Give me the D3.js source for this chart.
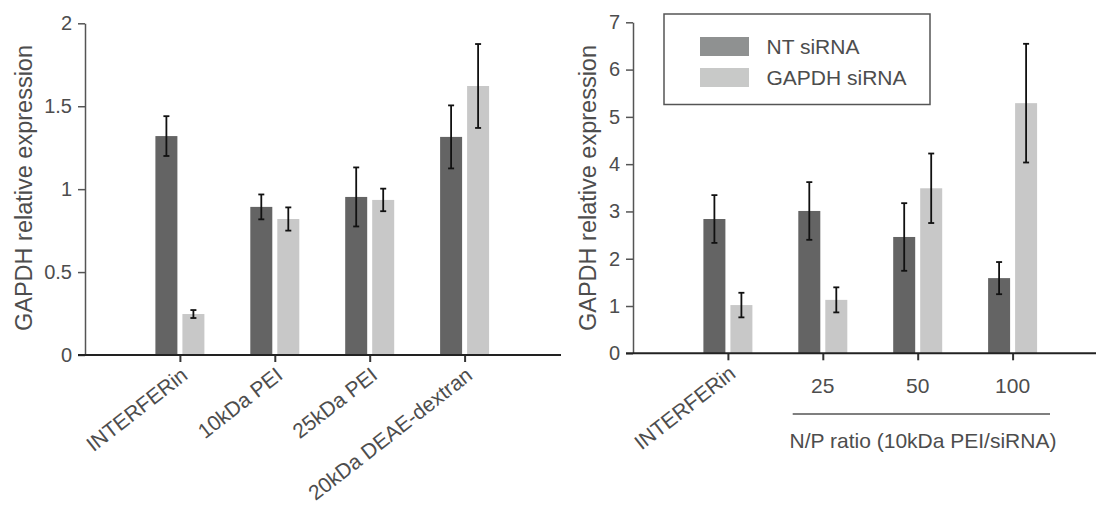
<!DOCTYPE html>
<html>
<head>
<meta charset="utf-8">
<script src="https://cdn.jsdelivr.net/npm/d3@7"></script>
<style>
  html, body { margin: 0; padding: 0; background: #fff; }
  svg { display: block; font-family: "Liberation Sans", Arial, Helvetica, sans-serif; }
</style>
</head>
<body>
<svg id="chart" width="1096" height="507"></svg>
<script>
// ---- Panel A: transfection reagents ----
const reagentCats = ["INTERFERin", "10kDa PEI", "25kDa PEI", "20kDa DEAE-dextran"];
const reagentNT = [1.32, 0.893, 0.953, 1.315];
const reagentNTErr = [0.12, 0.075, 0.178, 0.19];
const reagentGAPDH = [0.247, 0.82, 0.935, 1.622];
const reagentGAPDHErr = [0.024, 0.07, 0.068, 0.253];
const reagentTicks = [0, 0.5, 1, 1.5, 2];

// ---- Panel B: N/P ratio of 10kDa PEI ----
const ratioCats = ["INTERFERin", "25", "50", "100"];
const ratioNT = [2.84, 3.01, 2.46, 1.59];
const ratioNTErr = [0.505, 0.61, 0.715, 0.34];
const ratioGAPDH = [1.02, 1.13, 3.49, 5.29];
const ratioGAPDHErr = [0.26, 0.265, 0.735, 1.255];
const ratioTicks = [0, 1, 2, 3, 4, 5, 6, 7];

const seriesNames = ["NT siRNA", "GAPDH siRNA"];
const yTitle = "GAPDH relative expression";
const ratioGroupTitle = "N/P ratio (10kDa PEI/siRNA)";

const DARK = "#646464", LIGHT = "#c8c8c8";
const TEXT = "#4d4d4d";

const svg = d3.select("#chart");

function panel(opts) {
  const g = svg.append("g");
  const x = d3.scalePoint().domain(opts.cats).range([opts.x0, opts.x1]).padding(1);
  const y = d3.scaleLinear().domain([0, opts.ymax]).range([opts.yBottom, opts.yTop]);
  const barW = 22, gap = 2.5;

  // bars
  const rows = opts.cats.map((c, i) => ({
    c, nt: opts.nt[i], ntErr: opts.ntErr[i], gp: opts.gp[i], gpErr: opts.gpErr[i]
  }));
  g.selectAll("rect.nt").data(rows).join("rect")
    .attr("x", d => x(d.c) - gap - barW).attr("width", barW)
    .attr("y", d => y(d.nt)).attr("height", d => y(0) - y(d.nt))
    .attr("fill", DARK);
  g.selectAll("rect.gp").data(rows).join("rect")
    .attr("x", d => x(d.c) + gap).attr("width", barW)
    .attr("y", d => y(d.gp)).attr("height", d => y(0) - y(d.gp))
    .attr("fill", LIGHT);

  // error bars
  const errs = [];
  rows.forEach(d => {
    errs.push({ cx: x(d.c) - gap - barW / 2, v: d.nt, e: d.ntErr });
    errs.push({ cx: x(d.c) + gap + barW / 2, v: d.gp, e: d.gpErr });
  });
  const eg = g.selectAll("g.err").data(errs).join("g")
    .attr("stroke", "#111").attr("stroke-width", 1.8).attr("fill", "none");
  eg.append("line").attr("x1", d => d.cx).attr("x2", d => d.cx)
    .attr("y1", d => y(d.v + d.e)).attr("y2", d => y(d.v - d.e));
  eg.append("line").attr("x1", d => d.cx - 3).attr("x2", d => d.cx + 3)
    .attr("y1", d => y(d.v + d.e)).attr("y2", d => y(d.v + d.e));
  eg.append("line").attr("x1", d => d.cx - 3).attr("x2", d => d.cx + 3)
    .attr("y1", d => y(d.v - d.e)).attr("y2", d => y(d.v - d.e));

  // y axis
  const yAxis = d3.axisLeft(y).tickValues(opts.ticks).tickFormat(d3.format("~g"))
    .tickSize(7).tickSizeOuter(0).tickPadding(6);
  const ya = g.append("g").attr("transform", `translate(${opts.x0},0)`).call(yAxis);
  ya.select(".domain").attr("stroke", "#555").attr("stroke-width", 1.5);
  ya.selectAll(".tick line").attr("stroke", "#555").attr("stroke-width", 1.5);
  ya.selectAll(".tick text").attr("fill", TEXT).style("font-size", "20px")
    .style("font-family", "'Liberation Sans', Arial, sans-serif");

  // x axis
  const xAxis = d3.axisBottom(x).tickSize(7).tickSizeOuter(0).tickFormat("");
  const xa = g.append("g").attr("transform", `translate(0,${y(0)})`).call(xAxis);
  xa.select(".domain").remove();
  xa.append("line").attr("x1", opts.x0 - 7).attr("x2", opts.xEnd)
    .attr("stroke", "#222").attr("stroke-width", 2);
  xa.selectAll(".tick line").attr("stroke", "#333").attr("stroke-width", 2);

  // y title
  g.append("text")
    .attr("transform", `translate(${opts.titleX},188) rotate(-90)`)
    .attr("text-anchor", "middle").attr("fill", TEXT)
    .style("font-size", "23.5px").text(yTitle);

  return { g, x, y };
}

// category labels drawn rotated below the axis
function rotatedLabel(g, x, cat, yBase) {
  g.append("text")
    .attr("transform", `translate(${x(cat)},${yBase + 11}) rotate(-38)`)
    .attr("text-anchor", "end").attr("dy", "0.71em")
    .attr("fill", TEXT).style("font-size", "21px").text(cat);
}

const A = panel({
  cats: reagentCats, nt: reagentNT, ntErr: reagentNTErr, gp: reagentGAPDH, gpErr: reagentGAPDHErr,
  ticks: reagentTicks, ymax: 2, x0: 85, x1: 559.5, xEnd: 561, yBottom: 355, yTop: 23.3, titleX: 31.5
});
reagentCats.forEach(c => rotatedLabel(A.g, A.x, c, 355));

const B = panel({
  cats: ratioCats, nt: ratioNT, ntErr: ratioNTErr, gp: ratioGAPDH, gpErr: ratioGAPDHErr,
  ticks: ratioTicks, ymax: 7, x0: 633, x1: 1107.5, xEnd: 1096, yBottom: 353.3, yTop: 22.3, titleX: 595.5
});
rotatedLabel(B.g, B.x, ratioCats[0], 353.3);
ratioCats.slice(1).forEach(c => {
  B.g.append("text").attr("x", B.x(c)).attr("y", 393)
    .attr("text-anchor", "middle").attr("fill", TEXT)
    .style("font-size", "21px").text(c);
});
B.g.append("line").attr("x1", 792.7).attr("x2", 1050).attr("y1", 414).attr("y2", 414)
  .attr("stroke", "#555").attr("stroke-width", 1.5);
B.g.append("text").attr("x", 923).attr("y", 448)
  .attr("text-anchor", "middle").attr("fill", TEXT)
  .style("font-size", "21px").text(ratioGroupTitle);

// legend
const leg = svg.append("g");
leg.append("rect").attr("x", 664).attr("y", 14).attr("width", 266).attr("height", 90.5)
  .attr("fill", "#fff").attr("stroke", "#555").attr("stroke-width", 1.5);
const legColors = ["#8f9191", "#c8c9c8"];
seriesNames.forEach((name, i) => {
  leg.append("rect").attr("x", 700).attr("y", 37 + i * 31).attr("width", 49).attr("height", 19)
    .attr("fill", legColors[i]);
  leg.append("text").attr("x", 766.5).attr("y", 54 + i * 31)
    .attr("fill", TEXT).style("font-size", "21px").text(name);
});
</script>
</body>
</html>
